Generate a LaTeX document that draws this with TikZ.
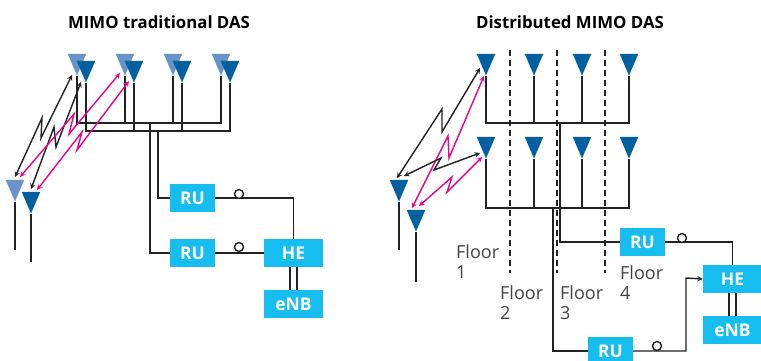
\documentclass[tikz,border=0pt]{standalone}
\usepackage{fontspec}
\setmainfont{Open Sans}
\usetikzlibrary{arrows}
\usetikzlibrary{shapes.geometric}
\definecolor{antlight}{HTML}{6A94C8}
\definecolor{antdark}{HTML}{0060A0}
\definecolor{boxblue}{HTML}{16BEF0}
\definecolor{linkpink}{HTML}{EC008C}
\definecolor{ink}{HTML}{222222}
\tikzstyle{ant} = [
    isosceles triangle,
    isosceles triangle stretches,
    shape border rotate=-90,
    minimum width=18.5pt,
    minimum height=21.5pt,
    inner sep=0pt,
    anchor=apex
]
\tikzstyle{antl} = [ant, fill=antlight]
\tikzstyle{antd} = [ant, fill=antdark]
\tikzstyle{unit} = [
    rectangle,
    fill=boxblue,
    text=white,
    minimum height=28pt,
    inner sep=0pt,
    font=\fontsize{17.5}{18}\selectfont\bfseries,
    text centered
]
\tikzstyle{ru}    = [unit, minimum width=45pt]
\tikzstyle{he}    = [unit, minimum width=59pt]
\tikzstyle{wire}  = [draw=ink, line width=1.4pt]
\tikzstyle{ring}  = [circle, draw=ink, fill=white, line width=1.4pt, minimum size=9pt, inner sep=0pt]
\tikzstyle{blink} = [draw=ink, line width=1.4pt, <->, >=stealth]
\tikzstyle{plink} = [draw=linkpink, line width=1.4pt, <->, >=stealth]
\tikzstyle{wall}  = [draw=ink, line width=1.3pt, dash pattern=on 6pt off 4pt]
\tikzstyle{title} = [font=\fontsize{16.8}{18}\selectfont\bfseries, text=black]
\tikzstyle{floor} = [font=\fontsize{18}{20}\selectfont, text=ink!85, align=left, anchor=north west, inner sep=0pt]

\begin{document}
\begin{tikzpicture}[x = 1pt, y = -1pt]
\clip (0,0) rectangle (761,360);
\fill[white] (0,0) rectangle (761,360);

\node[title] (titlea) at (159,22) {MIMO traditional DAS};
\node[title] (titleb) at (570,22) {Distributed MIMO DAS};

\node[antl] (al1) at (77,76)  {};
\node[antl] (al2) at (125,76) {};
\node[antl] (al3) at (173,76) {};
\node[antl] (al4) at (221,76) {};
\node[antd] (ad1) at (86,83)  {};
\node[antd] (ad2) at (134,83) {};
\node[antd] (ad3) at (182,83) {};
\node[antd] (ad4) at (230,83) {};
\node[antl] (ml) at (15,202) {};
\node[antd] (md) at (31,214) {};

\node[ru] (rua) at (192.5,198) {RU};
\node[ru] (rub) at (192.5,253) {RU};
\node[he] (hea) at (293.5,253) {HE};
\node[he] (enba) at (293.5,304) {eNB};

\coordinate (busl) at (150,123);
\coordinate (busd) at (158,131);
\coordinate (mlend) at (15,250);
\coordinate (mdend) at (31,262);

\draw[wire] (al1.apex) |- (busl) -| (al4.apex);
\draw[wire] (al2.apex) -- (al2.apex |- busl);
\draw[wire] (al3.apex) -- (al3.apex |- busl);
\draw[wire] (ad1.apex) |- (busd) -| (ad4.apex);
\draw[wire] (ad2.apex) -- (ad2.apex |- busd);
\draw[wire] (ad3.apex) -- (ad3.apex |- busd);
\draw[wire] (busl) |- (rub.west);
\draw[wire] (busd) |- (rua.west);
\draw[wire] (rua.east) -| (hea.north);
\draw[wire] (rub.east) -- (hea.west);
\draw[wire] ([xshift=-3.5pt]hea.south) -- ([xshift=-3.5pt]enba.north);
\draw[wire] ([xshift=3.5pt]hea.south) -- ([xshift=3.5pt]enba.north);
\draw[wire] (ml.apex) -- (mlend);
\draw[wire] (md.apex) -- (mdend);

\node[ring] (ringa) at (239,194) {};
\node[ring] (ringb) at (239,247) {};

\draw[blink] (15,177) -- (42,118) -- (41,138) -- (72,75);
\draw[blink] (31,189) -- (54,127) -- (56,147) -- (81,82);
\draw[plink] (20,177) -- (74,114) -- (69,134) -- (120,73);
\draw[plink] (37,190) -- (82,132) -- (77,150) -- (129,81);

\draw[wall] (510,50) -- (510,273);
\draw[wall] (557,50) -- (557,273);
\draw[wall] (605,50) -- (605,273);

\node[antd] (ua1) at (486,76) {};
\node[antd] (ua2) at (534,76) {};
\node[antd] (ua3) at (582,76) {};
\node[antd] (ua4) at (629,76) {};
\node[antd] (la1) at (486,159) {};
\node[antd] (la2) at (534,159) {};
\node[antd] (la3) at (582,159) {};
\node[antd] (la4) at (629,159) {};
\node[antd] (na) at (399,202) {};
\node[antd] (nb) at (416,232) {};

\node[ru] (ruc) at (642.5,242) {RU};
\node[ru] (rud) at (610.5,351) {RU};
\node[he] (heb) at (732.5,279) {HE};
\node[he] (enbb) at (732.5,330) {eNB};

\coordinate (busu) at (560,123);
\coordinate (busv) at (553,208);
\coordinate (bend) at (686,278);
\coordinate (naend) at (399,250);
\coordinate (nbend) at (416,282);

\draw[wire] (ua1.apex) |- (busu) -| (ua4.apex);
\draw[wire] (ua2.apex) -- (ua2.apex |- busu);
\draw[wire] (ua3.apex) -- (ua3.apex |- busu);
\draw[wire] (la1.apex) |- (busv) -| (la4.apex);
\draw[wire] (la2.apex) -- (la2.apex |- busv);
\draw[wire] (la3.apex) -- (la3.apex |- busv);
\draw[wire] (busu) |- (ruc.west);
\draw[wire] (busv) |- (rud.west);
\draw[wire] (ruc.east) -| (heb.north);
\draw[wire,->,>=stealth] (rud.east) -| (bend) -- (heb.west);
\draw[wire] ([xshift=-3.5pt]heb.south) -- ([xshift=-3.5pt]enbb.north);
\draw[wire] ([xshift=3.5pt]heb.south) -- ([xshift=3.5pt]enbb.north);
\draw[wire] (na.apex) -- (naend);
\draw[wire] (nb.apex) -- (nbend);

\node[ring] (ringc) at (682,238) {};
\node[ring] (ringd) at (657,346) {};

\draw[blink] (397,178) -- (442,109) -- (442,132) -- (480,68);
\draw[plink] (412,208) -- (448,136) -- (449,158) -- (484,76);
\draw[blink] (404,176) -- (441,158) -- (434,170) -- (480,153);
\draw[plink] (419,206) -- (452,177) -- (447,192) -- (482,157);

\node[floor] (floora) at (456,245) {Floor\\1};
\node[floor] (floorb) at (500,286) {Floor\\2};
\node[floor] (floorc) at (560,286) {Floor\\3};
\node[floor] (floord) at (620,266) {Floor\\4};
\end{tikzpicture}
\end{document}
